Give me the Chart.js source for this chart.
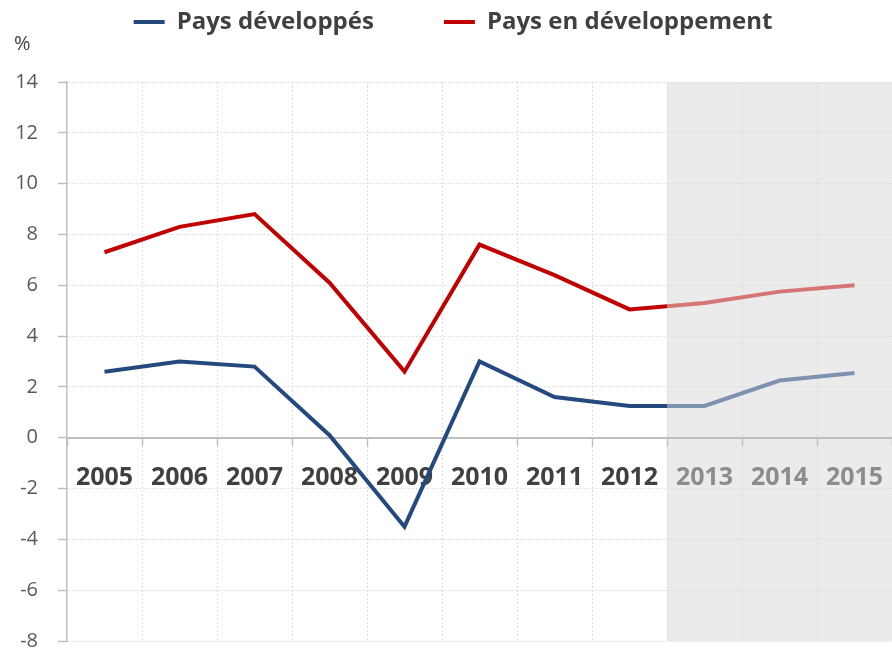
<!DOCTYPE html>
<html>
<head>
<meta charset="utf-8">
<script src="https://cdn.jsdelivr.net/npm/chart.js@4.4.1/dist/chart.umd.min.js"></script>
<style>
    html, body { margin: 0; padding: 0; background: #fff; }
</style>
</head>
<body>
<canvas id="chart" width="892" height="651"></canvas>
<script>
// données (croissance du PIB, %)
const years = ["2005", "2006", "2007", "2008", "2009", "2010", "2011", "2012", "2013", "2014", "2015"];
const developpes = [2.6, 3.0, 2.8, 0.1, -3.5, 3.0, 1.6, 1.25, 1.25, 2.25, 2.55];
const enDeveloppement = [7.3, 8.3, 8.8, 6.1, 2.6, 7.6, 6.4, 5.05, 5.3, 5.75, 6.0];
const seriesNames = ["Pays développés", "Pays en développement"];
const firstForecastYear = "2013";
const unitLabel = "%";

// bord gauche de la zone de prévision (entre 2012 et 2013)
function forecastEdge(chart) {
    const x = chart.scales.x;
    const i = years.indexOf(firstForecastYear);
    return (x.getPixelForTick(i - 1) + x.getPixelForTick(i)) / 2;
}

// couleur pleine avant la zone grisée, atténuée après
function splitColor(solid, faded) {
    return function (context) {
        const chart = context.chart;
        const area = chart.chartArea;
        if (!area) {
            return solid;
        }
        const stop = (forecastEdge(chart) - area.left) / (area.right - area.left);
        const g = chart.ctx.createLinearGradient(area.left, 0, area.right, 0);
        g.addColorStop(0, solid);
        g.addColorStop(stop, solid);
        g.addColorStop(stop, faded);
        g.addColorStop(1, faded);
        return g;
    };
}

const forecastShade = {
    id: "forecastShade",
    beforeDraw(chart) {
        const { ctx, chartArea } = chart;
        const left = forecastEdge(chart);
        ctx.save();
        ctx.fillStyle = "#ebebeb";
        ctx.fillRect(left, chartArea.top, chartArea.right - left, chartArea.bottom - chartArea.top);
        ctx.restore();
    },
};

Chart.defaults.font.family = "'Open Sans', sans-serif";

const gridColor = "#dcdcdc";
const axisColor = "#bfbfbf";

new Chart(document.getElementById("chart"), {
    type: "line",
    data: {
        labels: years,
        datasets: [
            {
                label: seriesNames[0],
                data: developpes,
                borderColor: splitColor("#24497f", "rgba(36,73,127,0.55)"),
                borderWidth: 4,
                pointRadius: 0,
                pointHoverRadius: 0,
                pointBorderWidth: 4,
                tension: 0,
            },
            {
                label: seriesNames[1],
                data: enDeveloppement,
                borderColor: splitColor("#c00000", "rgba(192,0,0,0.5)"),
                borderWidth: 4,
                pointRadius: 0,
                pointHoverRadius: 0,
                pointBorderWidth: 4,
                tension: 0,
            },
        ],
    },
    options: {
        responsive: false,
        animation: false,
        devicePixelRatio: 1,
        layout: {
            padding: { top: -60, left: 14, right: 0, bottom: 10 },
        },
        scales: {
            x: {
                position: { y: 0 },
                offset: true,
                afterFit(scale) {
                    // l'axe est posé sur la ligne du zéro : pas de place réservée
                    scale.height = 0;
                    scale.paddingLeft = 0;
                    scale.paddingRight = 0;
                },
                grid: {
                    offset: true,
                    color: (c) => (c.index === 0 ? "rgba(0,0,0,0)" : gridColor),
                    lineWidth: 1,
                    tickLength: 7,
                    tickColor: axisColor,
                    tickWidth: 1.5,
                },
                border: {
                    display: true,
                    color: axisColor,
                    width: 2,
                    dash: [2, 2],
                },
                ticks: {
                    autoSkip: false,
                    maxRotation: 0,
                    padding: 18,
                    font: { size: 25, weight: "bold" },
                    color: (c) => (c.index < years.indexOf(firstForecastYear) ? "#404040" : "#8c8c8c"),
                },
            },
            y: {
                min: -8,
                max: 14,
                afterFit(scale) {
                    scale.width = 53;
                    scale.paddingTop = 0;
                    scale.paddingBottom = 0;
                },
                grid: {
                    color: gridColor,
                    lineWidth: 1,
                    tickLength: 9,
                    tickColor: axisColor,
                    tickWidth: 1.5,
                },
                border: {
                    display: true,
                    color: axisColor,
                    width: 1.5,
                    dash: [2, 2],
                },
                ticks: {
                    stepSize: 2,
                    padding: 20,
                    color: "#595959",
                    font: { size: 20, lineHeight: 1 },
                },
            },
        },
        plugins: {
            legend: {
                position: "top",
                labels: {
                    usePointStyle: true,
                    pointStyle: "line",
                    pointStyleWidth: 31,
                    padding: 70,
                    color: "#404040",
                    font: { size: 24, weight: "bold" },
                },
            },
            title: {
                display: true,
                text: unitLabel,
                align: "start",
                weight: 500,
                color: "#404040",
                font: { size: 20, weight: "normal" },
                padding: { top: -12, bottom: 26 },
            },
            tooltip: { enabled: false },
        },
    },
    plugins: [forecastShade],
});
</script>
</body>
</html>
